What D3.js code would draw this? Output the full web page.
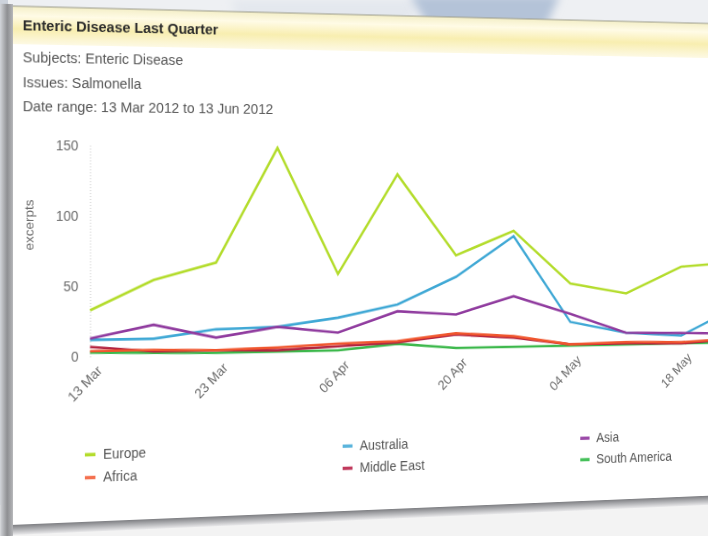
<!DOCTYPE html>
<html>
<head>
<meta charset="utf-8">
<script src="https://cdn.jsdelivr.net/npm/d3@7"></script>
<style>
html, body { margin:0; padding:0; width:708px; height:536px; overflow:hidden; background:#eceef1; }
#bg { position:absolute; left:0; top:0; }
#stage { position:absolute; left:0; top:0; width:1000px; height:560px;
  transform-origin: 10px 200px; transform: perspective(1500px) rotateY(10.95deg); filter: blur(0.45px); }
text { font-family: "Liberation Sans", Arial, sans-serif; }
</style>
</head>
<body>
<svg id="bg" width="708" height="536"></svg>
<div id="stage"><svg id="chart" width="1000" height="560"></svg></div>
<script>
// ---------------- data ----------------
const categories = ["13 Mar","16 Mar","23 Mar","30 Mar","06 Apr","13 Apr","20 Apr","27 Apr","04 May","11 May","18 May","25 May"];
const tickLabels = ["13 Mar","23 Mar","06 Apr","20 Apr","04 May","18 May"];
const yTicks = [0, 50, 100, 150];
const europe       = [33, 54, 66, 149, 57, 130, 70, 88, 48, 40, 60, 63];
const australia    = [12, 12, 18, 19, 25, 34, 54, 84, 19, 10, 7, 28];
const asia         = [13, 22, 12, 19, 14, 29, 26, 39, 25, 10, 9, 8];
const southAmerica = [3, 2, 1, 1, 1, 5, 1, 1, 1, 1, 1, 1];
const middleEast   = [7, 3, 3, 2, 4, 6, 11, 8, 2, 2, 1, 4];
const africa       = [4, 4, 3, 4, 6, 7, 12, 9, 2, 3, 2, 4];
const legendNames  = ["Europe","Africa","Australia","Middle East","Asia","South America"];
const titleText = "Enteric Disease Last Quarter";
const infoLines = ["Subjects: Enteric Disease","Issues: Salmonella","Date range: 13 Mar 2012 to 13 Jun 2012"];
const yTitle = "excerpts";

const colors = {
  "Europe":"#b3dc2b", "Australia":"#3fa8d5", "Asia":"#8f3a9e",
  "South America":"#3cb84b", "Middle East":"#b3233f", "Africa":"#f0562e"
};
const legendColors = {
  "Europe":"#b3dc2b", "Australia":"#5ab4dc", "Asia":"#9b4aa8",
  "South America":"#46c05a", "Middle East":"#c0395c", "Africa":"#f4704f"
};
const series = [
  {name:"Europe", values:europe},
  {name:"Australia", values:australia},
  {name:"Asia", values:asia},
  {name:"South America", values:southAmerica},
  {name:"Middle East", values:middleEast},
  {name:"Africa", values:africa}
];

// ---------------- background (photo surroundings) ----------------
const bg = d3.select("#bg");
const bdefs = bg.append("defs");
bdefs.append("filter").attr("id","blur").append("feGaussianBlur").attr("stdDeviation",4);
bg.append("rect").attr("width",708).attr("height",536).attr("fill","#eef0f3");
bg.append("polygon").attr("points","230,0 420,0 410,22 240,22").attr("fill","#e4e8ee").attr("filter","url(#blur)");
bg.append("polygon").attr("points","410,-5 560,-5 545,28 430,30").attr("fill","#b4c3d8").attr("filter","url(#blur)");
bg.append("rect").attr("x",0).attr("y",0).attr("width",8).attr("height",536).attr("fill","#cdd3dc");
bg.append("rect").attr("x",0).attr("y",505).attr("width",708).attr("height",31).attr("fill","#f3f3f3");

// ---------------- chart (flat, then put in perspective by CSS) ----------------
const svg = d3.select("#chart");
const defs = svg.append("defs");
const hg = defs.append("linearGradient").attr("id","hdr").attr("x1",0).attr("y1",0).attr("x2",0).attr("y2",1);
hg.append("stop").attr("offset","0%").attr("stop-color","#f4efc8");
hg.append("stop").attr("offset","25%").attr("stop-color","#fffbe6");
hg.append("stop").attr("offset","60%").attr("stop-color","#f8eeb0");
hg.append("stop").attr("offset","100%").attr("stop-color","#fdf9e4");
const lg = defs.append("linearGradient").attr("id","edge").attr("x1",0).attr("y1",0).attr("x2",1).attr("y2",0);
lg.append("stop").attr("offset","0%").attr("stop-color","#d2d4d8");
lg.append("stop").attr("offset","55%").attr("stop-color","#8e8f92");
lg.append("stop").attr("offset","100%").attr("stop-color","#b4b5b8");
const sg = defs.append("linearGradient").attr("id","shadow").attr("x1",0).attr("y1",0).attr("x2",0).attr("y2",1);
sg.append("stop").attr("offset","0%").attr("stop-color","#7d7e82");
sg.append("stop").attr("offset","100%").attr("stop-color","#e8e8ea");

// panel
svg.append("rect").attr("x",12).attr("y",6).attr("width",1000).attr("height",519).attr("fill","#ffffff");
svg.append("rect").attr("x",12).attr("y",6).attr("width",1000).attr("height",38).attr("fill","url(#hdr)");
svg.append("line").attr("x1",12).attr("x2",1012).attr("y1",6).attr("y2",6).attr("stroke","#9a9a8a").attr("stroke-width",1);
svg.append("rect").attr("x",12).attr("y",525).attr("width",1000).attr("height",10).attr("fill","url(#shadow)");
svg.append("rect").attr("x",0).attr("y",4).attr("width",13).attr("height",532).attr("fill","url(#edge)");

// texts
svg.append("text").attr("x",23).attr("y",30).attr("font-size",15).attr("font-weight","bold")
  .attr("fill","#2b2b2b").text(titleText);
svg.selectAll("text.info").data(infoLines).join("text").attr("class","info")
  .attr("x",23).attr("y",(d,i)=>62.5 + i*24.5).attr("font-size",14.7).attr("fill","#555").text(d=>d);

// scales
const x = d3.scalePoint().domain(categories).range([92.4, 92.4 + 66.6*(categories.length-1)]);
const y = d3.scaleLinear().domain([0,150]).range([358.5,144.6]);

// y axis
const yAxis = svg.append("g").attr("transform",`translate(${x(categories[0])},0)`)
  .call(d3.axisLeft(y).tickValues(yTicks).tickSize(0).tickPadding(12).tickFormat(d3.format("d")));
yAxis.select(".domain").attr("stroke","#c8c8c8").attr("stroke-dasharray","1,2");
yAxis.selectAll("text").attr("font-size",14).attr("fill","#6a6a6a").attr("font-family","Liberation Sans, Arial, sans-serif");

svg.append("text").attr("transform","translate(29,225) rotate(-90)").attr("text-anchor","middle")
  .attr("dy","0.35em").attr("font-size",13.5).attr("fill","#6a6a6a").text(yTitle);

// x axis
const xAxis = svg.append("g").attr("transform",`translate(0,${y(0)})`)
  .call(d3.axisBottom(x).tickValues(tickLabels).tickSize(0));
xAxis.select(".domain").remove();
xAxis.selectAll("text").attr("x",0).attr("y",0).attr("dy",0)
  .attr("text-anchor","end").attr("transform","translate(13,15) rotate(-45)")
  .attr("font-size",14).attr("fill","#6a6a6a").attr("font-family","Liberation Sans, Arial, sans-serif");

// lines
const line = d3.line().x((d,i)=>x(categories[i])).y(d=>y(d));
svg.append("g").selectAll("path").data(series).join("path")
  .attr("d",d=>line(d.values)).attr("fill","none")
  .attr("stroke",d=>colors[d.name]).attr("stroke-width",2.6);

// legend
const legCols = [87, 364, 637], legRows = [457.3, 480.5];
const leg = svg.append("g").selectAll("g").data(legendNames).join("g")
  .attr("transform",(d,i)=>`translate(${legCols[Math.floor(i/2)]},${legRows[i%2]})`);
leg.append("line").attr("x1",0).attr("x2",11).attr("y1",0).attr("y2",0)
  .attr("stroke",d=>legendColors[d]).attr("stroke-width",3.5);
leg.append("text").attr("x",19).attr("dy","0.35em").attr("font-size",14).attr("fill","#555").text(d=>d);
</script>
</body>
</html>
